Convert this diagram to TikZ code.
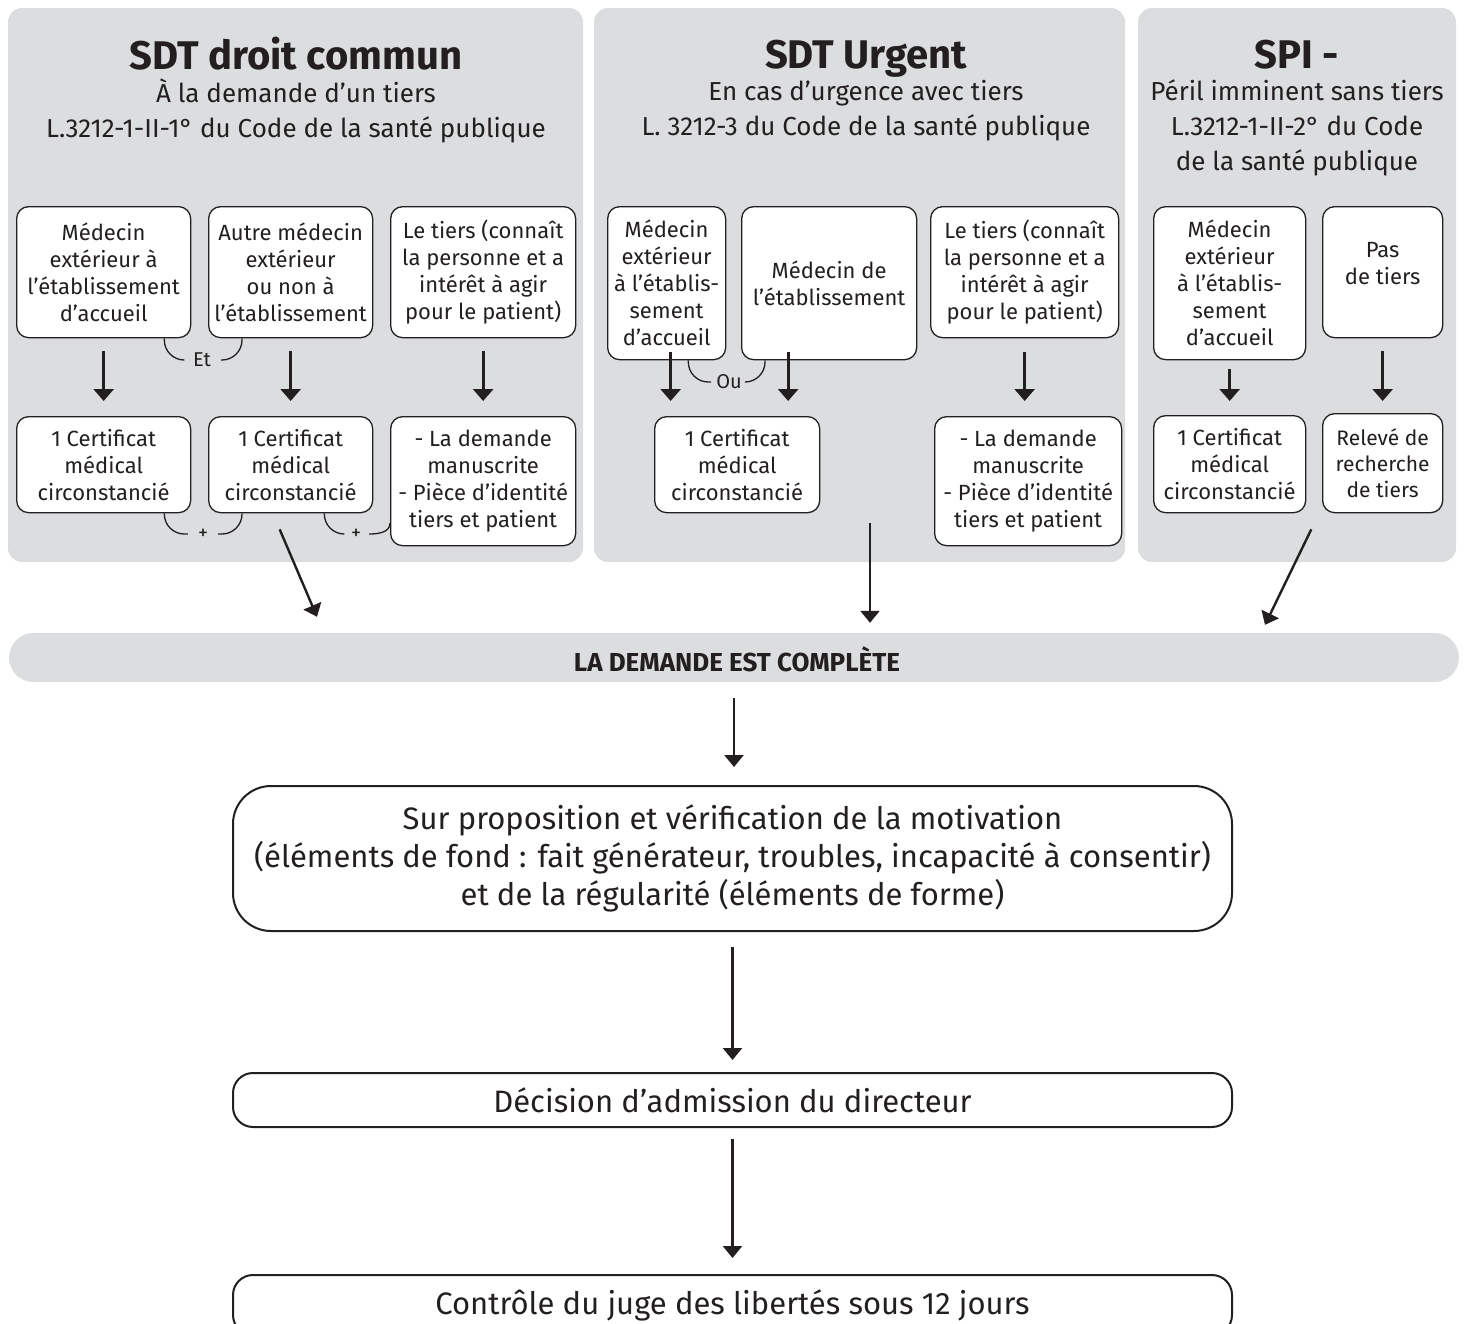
\documentclass[tikz,border=0pt]{standalone}
\usepackage{fontspec}
\setmainfont{Fira Sans}
\usetikzlibrary{arrows.meta}
\definecolor{panelgray}{HTML}{DCDDDF}
\definecolor{ink}{HTML}{231F20}

\begin{document}
\begin{tikzpicture}[x=1pt,y=1pt,
    box/.style={draw=ink,line width=1.3pt,fill=white,rounded corners=12pt,align=center,
      inner sep=0pt,font=\fontsize{22}{27}\selectfont,text=ink,anchor=north west},
    link/.style={draw=ink,line width=1.3pt,rounded corners=20pt},
    linklbl/.style={font=\fontsize{20}{20}\selectfont,inner xsep=10pt,inner ysep=4pt,text=ink},
    down/.style={draw=ink,line width=2.8pt,-{Triangle[width=20pt,length=12pt]}},
    flow/.style={draw=ink,line width=2.4pt,-{Triangle[width=19pt,length=12pt]}},
    ttl/.style={font=\fontsize{40}{44}\selectfont\bfseries,text=ink,
      execute at begin node=\strut},
    sub/.style={font=\fontsize{26}{35}\selectfont,align=center,text=ink,
      execute at begin node=\strut,execute at end node=\strut},
    big/.style={draw=ink,line width=2pt,align=center,text=ink,minimum width=999pt,
      anchor=north,inner sep=0pt,font=\fontsize{31}{38}\selectfont}]

\useasboundingbox (0,0) rectangle (1464,-1323);

% panels
\fill[panelgray,rounded corners=14pt] (8,-8) rectangle (583,-562);
\fill[panelgray,rounded corners=14pt] (594,-8) rectangle (1125,-562);
\fill[panelgray,rounded corners=14pt] (1138,-8) rectangle (1456,-562);

% titles
\node[ttl] (t1) at (296,-60) {SDT droit commun};
\node[sub] (s1) at (296,-113) {À la demande d’un tiers\\L.3212-1-II-1° du Code de la santé publique};
\node[ttl] (t2) at (866,-60) {SDT Urgent};
\node[sub] (s2) at (866,-113) {En cas d’urgence avec tiers\\L. 3212-3 du Code de la santé publique};
\node[ttl] (t3) at (1297,-60) {SPI -};
\node[sub] (s3) at (1297,-130.5) {Péril imminent sans tiers\\L.3212-1-II-2° du Code\\de la santé publique};

% droit commun
\node[box,minimum width=174,minimum height=131] (A1) at (16,-206) {Médecin\\extérieur à\\l’établissement\\d’accueil};
\node[box,minimum width=164,minimum height=131] (A2) at (208,-206) {Autre médecin\\extérieur\\ou non à\\l’établissement};
\node[box,minimum width=185,minimum height=131] (A3) at (390,-206) {Le tiers (connaît\\la personne et a\\intérêt à agir\\pour le patient)};
\node[box,minimum width=174,minimum height=96] (B1) at (16,-416) {1 Certificat\\médical\\circonstancié};
\node[box,minimum width=164,minimum height=96] (B2) at (208,-416) {1 Certificat\\médical\\circonstancié};
\node[box,minimum width=185,minimum height=129] (B3) at (390,-416) {- La demande\\manuscrite\\- Pièce d’identité\\tiers et patient};

\draw[down,shorten <=13pt,shorten >=15pt] (A1.south) -- (B1.north);
\draw[down,shorten <=13pt,shorten >=15pt] (A2.south) -- (B2.north);
\draw[down,shorten <=13pt,shorten >=15pt] (A3.south) -- (B3.north);

\node[linklbl] (et) at (202,-360) {Et};
\draw[link] ([xshift=-27]A1.south east) |- (et.west);
\draw[link] (et.east) -| ([xshift=34]A2.south west);
\node[linklbl] (plus1) at (203,-534) {+};
\draw[link] ([xshift=-27]B1.south east) |- (plus1.west);
\draw[link] (plus1.east) -| ([xshift=34]B2.south west);
\node[linklbl,inner xsep=8pt] (plus2) at (356,-534) {+};
\draw[link] ([xshift=-49]B2.south east) |- (plus2.west);
\draw[link] (plus2.east) to[out=0,in=-90] ([yshift=-42]B3.west);

% urgent
\node[box,minimum width=118,minimum height=153] (C1) at (607,-206) {Médecin\\extérieur\\à l’établis-\\sement\\d’accueil};
\node[box,minimum width=175,minimum height=153] (C2) at (741,-206) {Médecin de\\l’établissement};
\node[box,minimum width=188,minimum height=131] (C3) at (930,-206) {Le tiers (connaît\\la personne et a\\intérêt à agir\\pour le patient)};
\node[box,minimum width=165,minimum height=96] (D1) at (654,-416) {1 Certificat\\médical\\circonstancié};
\node[box,minimum width=187,minimum height=129] (D3) at (934,-416) {- La demande\\manuscrite\\- Pièce d’identité\\tiers et patient};

\draw[down,shorten >=15pt] ([xshift=4,yshift=8]C1.south) -- ([xshift=4]C1.south |- D1.north);
\draw[down,shorten >=15pt] ([xshift=-41,yshift=8]C2.south) -- ([xshift=-41]C2.south |- D1.north);
\draw[down,shorten <=14pt,shorten >=15pt] (C3.south) -- (C3.south |- D3.north);

\node[linklbl,inner xsep=5pt] (ou) at (729,-382) {Ou};
\draw[link] ([xshift=-38]C1.south east) |- (ou.west);
\draw[link] (ou.east) -| ([xshift=24]C2.south west);

% peril imminent
\node[box,minimum width=152,minimum height=153] (E1) at (1153,-206) {Médecin\\extérieur\\à l’établis-\\sement\\d’accueil};
\node[box,minimum width=120,minimum height=131] (E2) at (1322,-206) {Pas\\de tiers\\[-10pt]};
\node[box,minimum width=152,minimum height=97] (F1) at (1153,-415) {1 Certificat\\médical\\circonstancié};
\node[box,minimum width=120,minimum height=99,font=\fontsize{21}{26}\selectfont] (F2) at (1322,-413) {Relevé de\\recherche\\de tiers};

\draw[down,shorten <=9pt,shorten >=14pt] (E1.south) -- (F1.north);
\draw[down,shorten <=13pt,shorten >=12pt] (E2.south) -- (F2.north);

% demande complete
\node[fill=panelgray,rounded corners=24.5pt,minimum width=1450,minimum height=49,inner sep=0pt] (complete) at (734,-657.5) {};
\node[font=\fontsize{26}{28}\selectfont\bfseries,text=ink] (completetxt) at (737,-659) {LA DEMANDE EST COMPLÈTE};

\draw[flow] ([xshift=-11,yshift=-16]B2.south) -- ([xshift=-417,yshift=16]complete.north);
\draw[flow] ([xshift=136,yshift=110]complete.north) -- ([xshift=136,yshift=10]complete.north);
\draw[flow] ([xshift=5,yshift=-16]F1.south east) -- ([xshift=531,yshift=8]complete.north);

% suite
\node[big,minimum height=145,rounded corners=38pt] (motiv) at (732.5,-785)
  {Sur proposition et vérification de la motivation\\(éléments de fond : fait générateur, troubles, incapacité à consentir)\\et de la régularité (éléments de forme)};
\node[big,minimum height=54,rounded corners=20pt] (decision) at (732.5,-1072) {Décision d’admission du directeur};
\node[big,minimum height=60,rounded corners=20pt] (jld) at (732.5,-1274) {Contrôle du juge des libertés sous 12 jours};

\draw[flow,shorten <=16pt,shorten >=18pt] (complete.south) -- (complete.south |- motiv.north);
\draw[flow,shorten <=15pt,shorten >=12pt] (motiv.south) -- (decision.north);
\draw[flow,shorten <=11pt,shorten >=16pt] (decision.south) -- (jld.north);
\end{tikzpicture}
\end{document}
